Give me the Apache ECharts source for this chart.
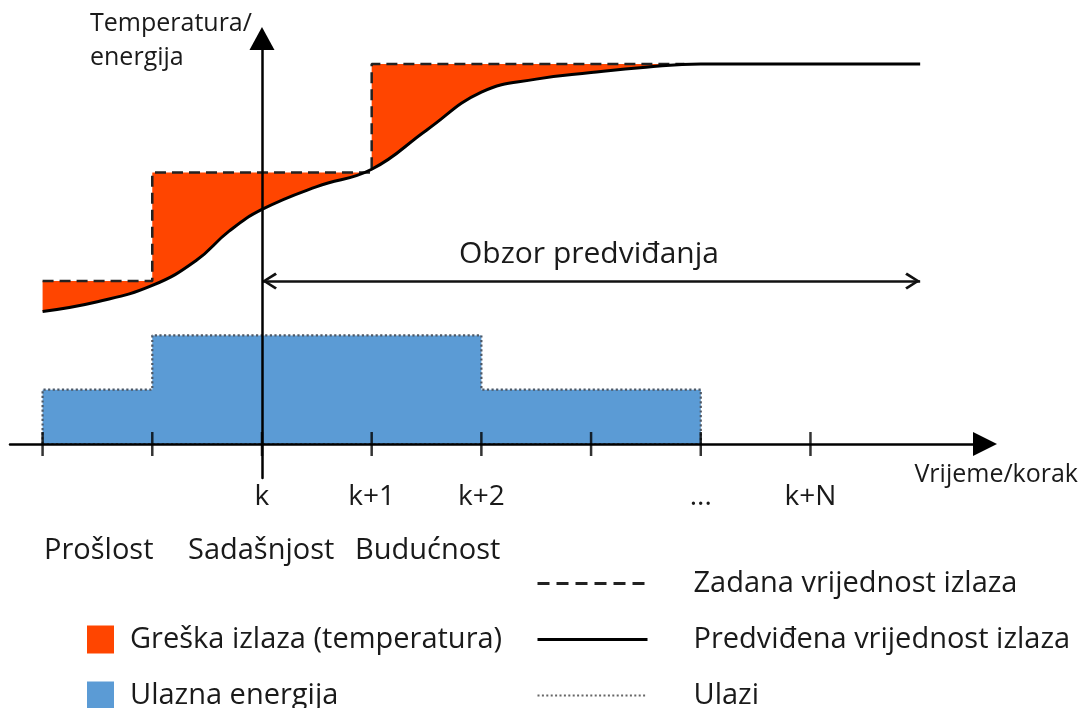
<!DOCTYPE html>
<html>
<head>
<meta charset="utf-8">
<script src="https://cdn.jsdelivr.net/npm/echarts@6/dist/echarts.min.js"></script>
<style>
  html, body { margin: 0; padding: 0; background: #fff; }
  #main { width: 1083px; height: 708px; }
</style>
</head>
<body>
<div id="main"></div>
<script>
// vremenski koraci (k = 0)
var tickSteps = [-2, -1, 0, 1, 2, 3, 4, 5];
var labelSteps = [0, 1, 2, 4, 5];
var labelTexts = ['k', 'k+1', 'k+2', '...', 'k+N'];

// zadana vrijednost izlaza (stepenice)
var setEdges = [-2, -1, 1, 3.85];
var setLevels = [1.5, 2.5, 3.5];

// predviđena vrijednost izlaza
var predX = [-2, -1.5, -1, -0.6, -0.3, 0, 0.5, 1.0, 1.5, 2.0, 2.5, 3.0, 3.5, 4.0, 6.0];
var predY = [1.22, 1.31, 1.46, 1.69, 1.96, 2.16, 2.37, 2.53, 2.89, 3.24, 3.36, 3.42, 3.47, 3.5, 3.5];

// ulazna energija (stepenice)
var inEdges = [-2, -1, 2, 4];
var inLevels = [0.5, 1.0, 0.5];

// obzor predviđanja
var horizon = [0, 6];
var horizonLevel = 1.5;

function steps(edges, levels) {
  var pts = [];
  for (var i = 0; i < levels.length; i++) {
    pts.push([edges[i], levels[i]]);
    pts.push([edges[i + 1], levels[i]]);
  }
  return pts;
}

var setPts = steps(setEdges, setLevels);
var predPts = predX.map(function (x, i) { return [x, predY[i]]; });
var inArea = [[inEdges[0], 0]].concat(steps(inEdges, inLevels), [[inEdges[inEdges.length - 1], 0]]);
var inLine = inArea.concat([[inEdges[0], 0]]);

var FONT = '"Open Sans", "Noto Sans", sans-serif';
var TXT = '#1a1a1a';
var RED = '#ff4500';
var BLUE = '#5b9bd5';
var DOT = '#4d5866';

var chevron = 'path://M8,0 L16,12 L14,13.6 L8,4.2 L2,13.6 L0,12 Z';

var myChart = echarts.init(document.getElementById('main'));
myChart.setOption({
  animation: false,
  grid: { left: 10, right: 98, top: 38.5, bottom: 230 },
  xAxis: {
    type: 'value',
    min: -2.297,
    max: 6.591,
    z: 10,
    axisLine: {
      onZero: true,
      symbol: ['none', 'triangle'],
      symbolSize: [24, 24],
      lineStyle: { color: '#000', width: 2.5 }
    },
    axisTick: { show: false },
    splitLine: { show: false },
    axisLabel: {
      customValues: labelSteps,
      margin: 5,
      color: TXT,
      fontSize: 28,
      fontFamily: FONT,
      formatter: function (v) {
        var i = labelSteps.indexOf(v);
        return i < 0 ? '' : labelTexts[i];
      }
    }
  },
  yAxis: {
    type: 'value',
    min: -0.313,
    max: 3.734,
    z: 10,
    axisLine: {
      onZero: true,
      symbol: ['none', 'triangle'],
      symbolSize: [25, 23],
      lineStyle: { color: '#000', width: 2.5 }
    },
    axisTick: { show: false },
    axisLabel: { show: false },
    splitLine: { show: false }
  },
  legend: [
    {
      orient: 'vertical',
      left: 87,
      top: 625,
      height: 120,
      padding: 0,
      itemWidth: 27,
      itemHeight: 28,
      itemGap: 27,
      selectedMode: false,
      textStyle: { color: TXT, fontSize: 29, lineHeight: 28, fontFamily: FONT, padding: [0, 0, 0, 11] },
      data: [
        { name: 'Greška izlaza (temperatura)', icon: 'rect', itemStyle: { color: RED, borderWidth: 0 } },
        { name: 'Ulazna energija', icon: 'rect', itemStyle: { color: BLUE, borderWidth: 0 } }
      ]
    },
    {
      orient: 'vertical',
      left: 536,
      top: 569,
      height: 160,
      padding: 0,
      itemWidth: 110,
      itemHeight: 28,
      itemGap: 27,
      selectedMode: false,
      itemStyle: { opacity: 0 },
      textStyle: { color: TXT, fontSize: 29, lineHeight: 28, fontFamily: FONT, padding: [0, 0, 0, 41] },
      data: [
        { name: 'Zadana vrijednost izlaza', lineStyle: { color: '#222', width: 2.8, type: [12, 7] } },
        { name: 'Predviđena vrijednost izlaza', lineStyle: { color: '#000', width: 3 } },
        { name: 'Ulazi', lineStyle: { color: '#666', width: 1.8, type: [2, 2.4] } }
      ]
    }
  ],
  series: [
    {
      name: 'Greška izlaza (temperatura)',
      type: 'line',
      z: 1,
      symbol: 'none',
      color: RED,
      lineStyle: { width: 0 },
      areaStyle: { color: RED, opacity: 1, origin: predY[0] },
      data: setPts
    },
    {
      type: 'line',
      z: 2,
      symbol: 'none',
      smooth: 0.45,
      lineStyle: { width: 0 },
      areaStyle: { color: '#fff', opacity: 1 },
      data: predPts
    },
    {
      name: 'Ulazna energija',
      type: 'line',
      z: 3,
      symbol: 'none',
      color: BLUE,
      lineStyle: { width: 0 },
      areaStyle: { color: BLUE, opacity: 1 },
      data: inArea
    },
    {
      name: 'Ulazi',
      type: 'line',
      z: 4,
      symbol: 'none',
      color: DOT,
      lineStyle: { color: DOT, width: 2.2, type: [2.2, 2.4] },
      data: inLine
    },
    {
      name: 'Zadana vrijednost izlaza',
      type: 'line',
      z: 5,
      symbol: 'none',
      color: '#222',
      lineStyle: { color: '#222', width: 2.5, type: [11, 6] },
      data: setPts
    },
    {
      name: 'Predviđena vrijednost izlaza',
      type: 'line',
      z: 6,
      symbol: 'none',
      smooth: 0.45,
      color: '#000',
      lineStyle: { color: '#000', width: 3 },
      data: predPts,
      markLine: {
        silent: true,
        symbol: [chevron, chevron],
        symbolSize: [17, 15],
        symbolOffset: [[0, '50%'], [0, '50%']],
        label: { show: false },
        lineStyle: { color: '#111', width: 2.5, type: 'solid' },
        data: [[{ coord: [horizon[0], horizonLevel] }, { coord: [horizon[1], horizonLevel] }]]
      }
    },
    {
      type: 'scatter',
      z: 11,
      symbol: 'rect',
      symbolSize: [2.5, 24],
      itemStyle: { color: '#000' },
      silent: true,
      data: tickSteps.map(function (x) { return [x, 0]; })
    }
  ],
  graphic: [
    { type: 'text', z: 100, style: { text: 'Temperatura/', x: 90, y: 24, font: '25px ' + FONT, fill: TXT, align: 'left', verticalAlign: 'middle' } },
    { type: 'text', z: 100, style: { text: 'energija', x: 90, y: 58, font: '25px ' + FONT, fill: TXT, align: 'left', verticalAlign: 'middle' } },
    { type: 'text', z: 100, style: { text: 'Obzor predviđanja', x: 589, y: 254, font: '30px ' + FONT, fill: TXT, align: 'center', verticalAlign: 'middle' } },
    { type: 'text', z: 100, style: { text: 'Vrijeme/korak', x: 1078, y: 475, font: '25px ' + FONT, fill: TXT, align: 'right', verticalAlign: 'middle' } },
    { type: 'text', z: 100, style: { text: 'Prošlost', x: 44, y: 551, font: '29px ' + FONT, fill: TXT, align: 'left', verticalAlign: 'middle' } },
    { type: 'text', z: 100, style: { text: 'Sadašnjost', x: 188, y: 551, font: '29px ' + FONT, fill: TXT, align: 'left', verticalAlign: 'middle' } },
    { type: 'text', z: 100, style: { text: 'Budućnost', x: 355, y: 551, font: '29px ' + FONT, fill: TXT, align: 'left', verticalAlign: 'middle' } }
  ]
});
</script>
</body>
</html>
